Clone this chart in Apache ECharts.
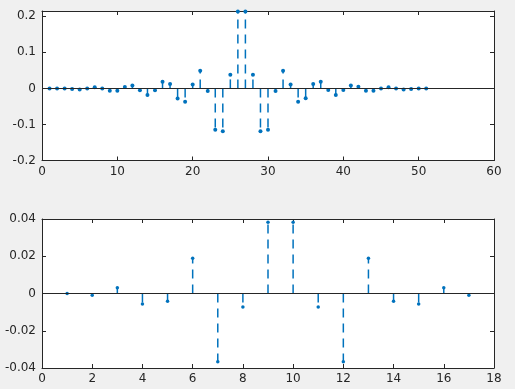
<!DOCTYPE html>
<html>
<head>
<meta charset="utf-8">
<script src="https://cdn.jsdelivr.net/npm/echarts@6/dist/echarts.min.js"></script>
<style>
html,body{margin:0;padding:0;background:#f0f0f0;}
#c{width:515px;height:389px;}
</style>
</head>
<body>
<div id="c"></div>
<script>
// Top stem plot values (n = 1..51)
const topValues = [0, 0, 0, -0.002, -0.003, 0, 0.003, 0, -0.0065, -0.0065,
  0.004, 0.008, -0.005, -0.018, -0.005, 0.0185, 0.012, -0.028, -0.037, 0.011,
  0.049, -0.0074, -0.115, -0.119, 0.038, 0.213, 0.213, 0.038, -0.119, -0.115,
  -0.0074, 0.049, 0.011, -0.037, -0.027, 0.012, 0.0185, -0.0046, -0.018, -0.0046,
  0.008, 0.0046, -0.0065, -0.0065, 0, 0.003, 0, -0.003, -0.002, 0, 0];
// Bottom stem plot values (n = 1..17)
const bottomValues = [0, -0.0009, 0.0031, -0.0056, -0.0041, 0.0189, -0.0366, -0.0072,
  0.0382, 0.0382, -0.0072, -0.0366, 0.0189, -0.0041, -0.0056, 0.0031, -0.0009];
const topXTicks = [0, 60, 10];
const topYTicks = [-0.2, 0.2147, 0.1];
const bottomXTicks = [0, 18, 2];
const bottomYTicks = [-0.04, 0.04, 0.02];

const BLUE = '#0072BD';
const AX = '#262626';
const FONT = 'DejaVu Sans';

const topData = topValues.map((v, i) => [i + 1, v]);
const bottomData = bottomValues.map((v, i) => [i + 1, v]);

function axisCommon(pos, showLabel, gridIndex, ticks, isY) {
  const step = ticks[2];
  return {
    type: 'value', gridIndex: gridIndex, position: pos,
    min: ticks[0], max: ticks[1], interval: step,
    axisLine: { show: true, onZero: false, lineStyle: { color: AX, width: 1 } },
    axisTick: { show: true, inside: true, length: 4, lineStyle: { color: AX, width: 1 } },
    splitLine: { show: false },
    axisLabel: {
      show: showLabel, color: AX, fontSize: 12, fontFamily: FONT, margin: isY ? 6 : 5,
      showMaxLabel: true, showMinLabel: true,
      formatter: function (v) {
        const k = v / step;
        if (Math.abs(k - Math.round(k)) > 1e-6) return '';
        return String(+v.toFixed(6));
      }
    }
  };
}

function stemSeries(data, xi, yi) {
  return {
    type: 'custom', xAxisIndex: xi, yAxisIndex: yi, data: data, z: 3, silent: true,
    renderItem: function (params, api) {
      const x = api.value(0), y = api.value(1);
      const p0 = api.coord([x, 0]);
      const p1 = api.coord([x, y]);
      return {
        type: 'line',
        shape: { x1: p0[0], y1: p0[1], x2: p1[0], y2: p1[1] },
        style: { stroke: BLUE, lineWidth: 1.5, lineDash: [9, 6] }
      };
    }
  };
}

function markerSeries(data, xi, yi, size) {
  return {
    type: 'scatter', xAxisIndex: xi, yAxisIndex: yi, data: data, z: 4, silent: true,
    symbol: 'circle', symbolSize: size,
    itemStyle: { color: BLUE, opacity: 1 },
    markLine: {
      silent: true, symbol: 'none', animation: false,
      label: { show: false },
      lineStyle: { color: AX, width: 1, type: 'solid' },
      data: [{ yAxis: 0 }]
    }
  };
}

const chart = echarts.init(document.getElementById('c'), null, { renderer: 'canvas' });
chart.setOption({
  animation: false,
  backgroundColor: '#f0f0f0',
  grid: [
    { left: 42, right: 21, top: 11, height: 149.5, show: true, backgroundColor: '#ffffff', borderWidth: 0 },
    { left: 42, right: 21, top: 219, height: 149, show: true, backgroundColor: '#ffffff', borderWidth: 0 }
  ],
  xAxis: [
    axisCommon('bottom', true, 0, topXTicks, false),
    axisCommon('top', false, 0, topXTicks, false),
    axisCommon('bottom', true, 1, bottomXTicks, false),
    axisCommon('top', false, 1, bottomXTicks, false)
  ],
  yAxis: [
    axisCommon('left', true, 0, topYTicks, true),
    axisCommon('right', false, 0, topYTicks, true),
    axisCommon('left', true, 1, bottomYTicks, true),
    axisCommon('right', false, 1, bottomYTicks, true)
  ],
  series: [
    stemSeries(topData, 0, 0),
    markerSeries(topData, 0, 0, 4),
    stemSeries(bottomData, 2, 2),
    markerSeries(bottomData, 2, 2, 3.5)
  ]
});
</script>
</body>
</html>
